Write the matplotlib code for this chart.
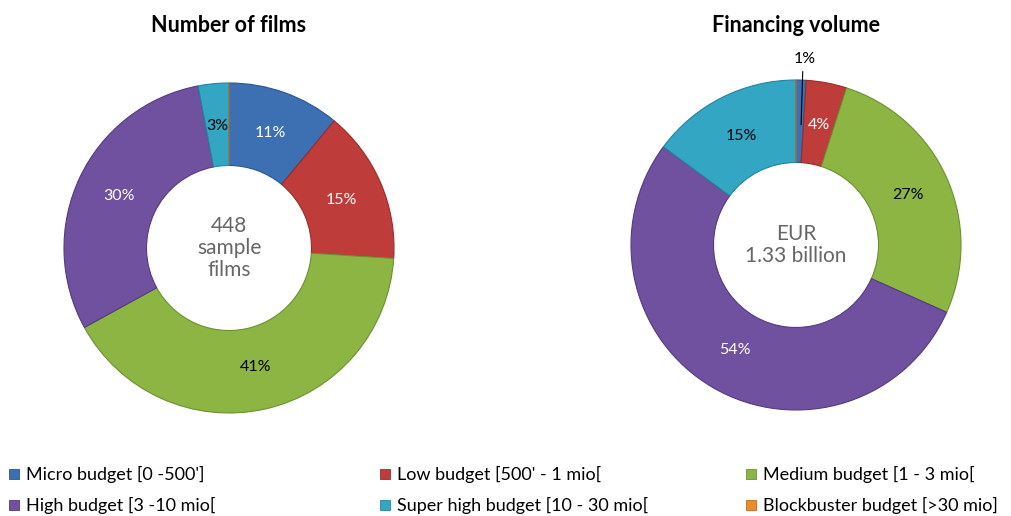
import matplotlib
matplotlib.use("Agg")
import matplotlib.pyplot as plt
from matplotlib.patches import Rectangle
import numpy as np

plt.rcParams['font.family'] = ['Lato', 'DejaVu Sans']

categories = ["Micro budget [0 -500']", "Low budget [500' - 1 mio[", "Medium budget [1 - 3 mio[",
              "High budget [3 -10 mio[", "Super high budget [10 - 30 mio[", "Blockbuster budget [>30 mio]"]
colors = ["#3D6FB3", "#BE3D3A", "#8DB543", "#6F51A0", "#33A6C4", "#EE8A2C"]
edge_colors = ["#2C5590", "#9A2C2A", "#6E9030", "#553A80", "#23849E", "#C06A1C"]

films_values = [11, 15, 41, 30, 3, 0]
films_labels = ["11%", "15%", "41%", "30%", "3%", ""]
films_label_colors = ["white", "white", "black", "white", "black", "black"]

volume_values = [1, 4, 27, 54, 15, 0]
volume_labels = ["1%", "4%", "27%", "54%", "15%", ""]
volume_label_colors = ["black", "white", "black", "white", "black", "black"]

titles = ["Number of films", "Financing volume"]
center_texts = ["448\nsample\nfilms", "EUR\n1.33 billion"]

W, H = 1012, 516
fig = plt.figure(figsize=(W / 100, H / 100), dpi=100)

R = 165  # outer radius px
centers = [(229, 248), (796, 245)]
S = 400
datasets = [(films_values, films_labels, films_label_colors),
            (volume_values, volume_labels, volume_label_colors)]

for i, ((cx, cy), (vals, labs, lcols)) in enumerate(zip(centers, datasets)):
    ax = fig.add_axes([(cx - S / 2) / W, (H - cy - S / 2) / H, S / W, S / H])
    lim = S / 2 / R
    wedges, _ = ax.pie(vals, colors=colors, startangle=90, counterclock=False,
                       radius=1.0, wedgeprops=dict(width=0.5, linewidth=0.8))
    for w, ec in zip(wedges, edge_colors):
        w.set_edgecolor(ec)
    ax.set_xlim(-lim, lim)
    ax.set_ylim(-lim, lim)
    ax.set_aspect('equal')
    ax.axis('off')
    total = sum(vals)
    start = 90.0
    for v, lab, lc in zip(vals, labs, lcols):
        sweep = 360.0 * v / total
        mid = np.deg2rad(start - sweep / 2)
        start -= sweep
        if not lab:
            continue
        if v < 2:
            x0 = 0.99 * np.cos(mid)
            ax.plot([x0, x0 + 0.01], [0.73, 1.05], color='black', lw=0.8)
            ax.text(x0 + 0.02, 1.13, lab, ha='center', va='center', fontsize=11.5, color=lc)
        else:
            ax.text(0.74 * np.cos(mid), 0.74 * np.sin(mid), lab, ha='center', va='center',
                    fontsize=11.5, color=lc)
    ax.text(0, 0, center_texts[i], ha='center', va='center', fontsize=15,
            color='#666666', linespacing=1.15)
    fig.text(cx / W, 1 - 25 / H, titles[i], ha='center', va='center',
             fontsize=15.5, fontweight='bold')

# legend
col_x = [14, 385, 751]
row_y = [474, 505]
for k, (cat, col, ec) in enumerate(zip(categories, colors, edge_colors)):
    r, c = divmod(k, 3)
    x, y = col_x[c], row_y[r]
    fig.patches.append(Rectangle(((x - 5) / W, (H - y - 5) / H), 10 / W, 10 / H,
                                 transform=fig.transFigure, facecolor=col,
                                 edgecolor=ec, linewidth=0.6))
    fig.text((x + 12) / W, 1 - y / H, cat, ha='left', va='center', fontsize=13)

fig.savefig("out.png", dpi=100, facecolor='white')
